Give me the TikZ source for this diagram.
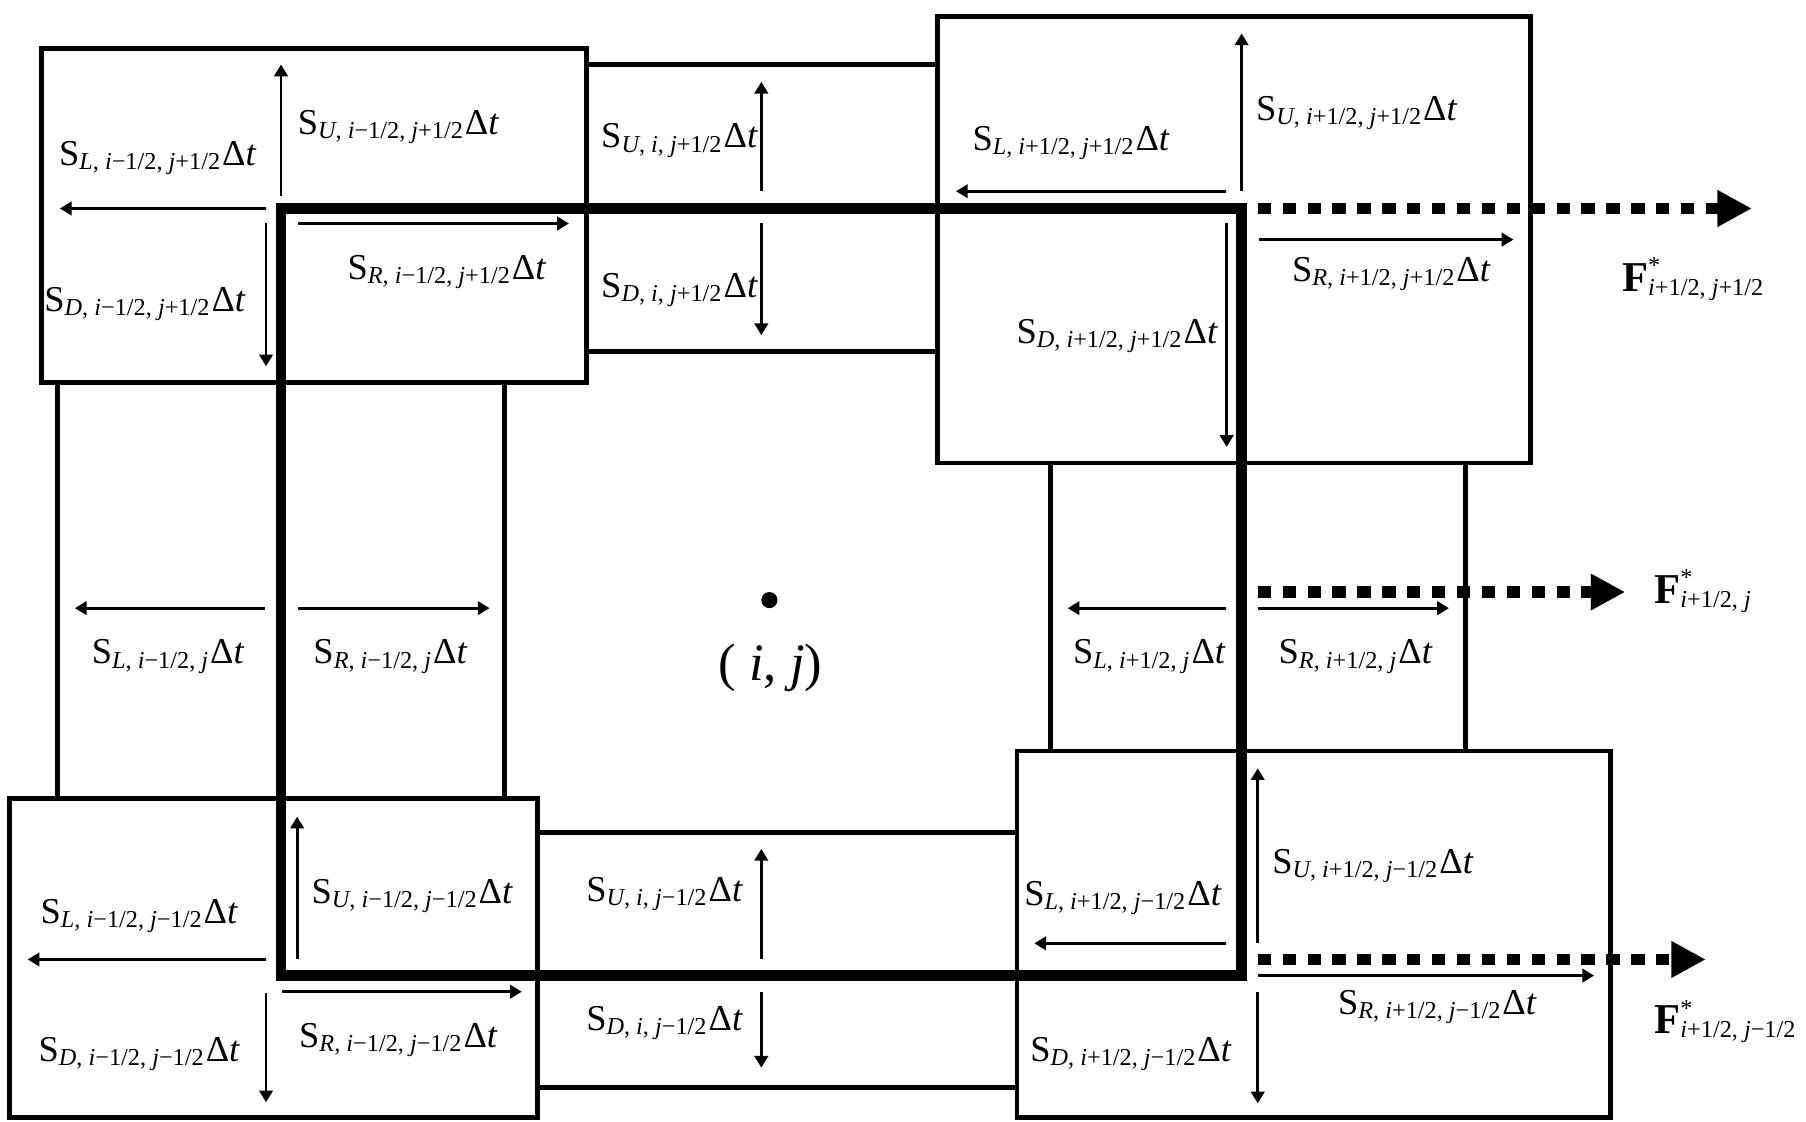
\documentclass[tikz,border=0pt]{standalone}
\usepackage{fontspec}
\setmainfont{Liberation Serif}
\usetikzlibrary{arrows.meta}
\newcommand{\flx}[3]{S\textsubscript{\textit{#1}, #2, #3}Δ\textit{t}}
\newcommand{\flxF}[2]{{\fontsize{10.5}{12}\selectfont\textbf{F}}\rlap{\raisebox{0.6pt}{\textsuperscript{*}}}\textsubscript{#1, #2}}
\begin{document}
\begin{tikzpicture}[x=0.1mm,y=-0.1mm,>={Triangle[length=2.9pt,width=3.3pt]},font=\fontsize{9}{11}\selectfont]
	\tikzset{cell/.style={line width=1.2pt},
		ctrl/.style={line width=2.6pt},
		sv/.style={->,line width=0.7pt},
		flux/.style={-{Triangle[length=8.5pt,width=8.5pt]},line width=2.85pt,dash pattern=on 3.3pt off 2.85pt}}
	\useasboundingbox (0,0) rectangle (1568,974);
	
	% --- Cells around the control volume ---
	\draw[cell] (36,42) rectangle (509,332);
	\draw[cell] (509,56)--(814,56) (509,305)--(814,305);
	\draw[cell] (814,14) rectangle (1329,402);
	\draw[cell] (50,332)--(50,693) (438,332)--(438,693);
	\draw[cell] (912,402)--(912,652) (1272,402)--(1272,652);
	\draw[cell] (8,693) rectangle (467,970);
	\draw[cell] (467,723)--(883,723) (467,944)--(883,944);
	\draw[cell] (883,652) rectangle (1398,970);
	
	% --- Control volume (i,j) ---
	\coordinate (NW) at (244,181);
	\coordinate (SE) at (1078,847);
	\draw[ctrl] (NW) rectangle (SE);
	\fill (668,521) circle (0.7mm);
	\node[font=\fontsize{13}{15}\selectfont] (ij) at (669,580) {(\ \textit{i},\ \textit{j})};
	
	% --- Wave speeds, top row ---
	\draw[sv] (244,170)--(244,56);
	\draw[sv] (231,181)--(52,181);
	\draw[sv] (231,194)--(231,318);
	\draw[sv] (259,194)--(494,194);
	\draw[sv] (661,166)--(661,71);
	\draw[sv] (661,194)--(661,291);
	\draw[sv] (1078,166)--(1078,29);
	\draw[sv] (1064,166)--(830,166);
	\draw[sv] (1065,194)--(1065,388);
	\draw[sv] (1093,208)--(1314,208);
	
	% --- Wave speeds, middle row ---
	\draw[sv] (230,528)--(65,528);
	\draw[sv] (259,528)--(425,528);
	\draw[sv] (1064,528)--(927,528);
	\draw[sv] (1092,528)--(1258,528);
	
	% --- Wave speeds, bottom row ---
	\draw[sv] (258,833)--(258,709);
	\draw[sv] (231,833)--(24,833);
	\draw[sv] (231,862)--(231,957);
	\draw[sv] (245,861)--(453,861);
	\draw[sv] (661,833)--(661,737);
	\draw[sv] (661,861)--(661,927);
	\draw[sv] (1092,819)--(1092,667);
	\draw[sv] (1064,819)--(898,819);
	\draw[sv] (1092,847)--(1384,847);
	\draw[sv] (1092,861)--(1092,958);
	
	% --- Numerical fluxes ---
	\draw[flux] (1092,181)--(1521,181);
	\draw[flux] (1092,514)--(1411,514);
	\draw[flux] (1092,833)--(1481,833);
	\node[anchor=west] (Fne) at (1396,242) {\flxF{\textit{i}+1/2}{\textit{j}+1/2}};
	\node[anchor=west] (Fe) at (1424,513) {\flxF{\textit{i}+1/2}{\textit{j}}};
	\node[anchor=west] (Fse) at (1424,887) {\flxF{\textit{i}+1/2}{\textit{j}−1/2}};
	
	% --- Labels, top row ---
	\node (SUnw) at (346,110) {\flx{U}{\textit{i}−1/2}{\textit{j}+1/2}};
	\node (SLnw) at (137,137) {\flx{L}{\textit{i}−1/2}{\textit{j}+1/2}};
	\node (SRnw) at (388,236) {\flx{R}{\textit{i}−1/2}{\textit{j}+1/2}};
	\node (SDnw) at (126,264) {\flx{D}{\textit{i}−1/2}{\textit{j}+1/2}};
	\node (SUn) at (590,122) {\flx{U}{\textit{i}}{\textit{j}+1/2}};
	\node (SDn) at (590,252) {\flx{D}{\textit{i}}{\textit{j}+1/2}};
	\node (SLne) at (930,124) {\flx{L}{\textit{i}+1/2}{\textit{j}+1/2}};
	\node (SUne) at (1178,98) {\flx{U}{\textit{i}+1/2}{\textit{j}+1/2}};
	\node (SRne) at (1208,238) {\flx{R}{\textit{i}+1/2}{\textit{j}+1/2}};
	\node (SDne) at (970,292) {\flx{D}{\textit{i}+1/2}{\textit{j}+1/2}};
	
	% --- Labels, middle row ---
	\node (SLw) at (146,570) {\flx{L}{\textit{i}−1/2}{\textit{j}}};
	\node (SRw) at (339,570) {\flx{R}{\textit{i}−1/2}{\textit{j}}};
	\node (SLe) at (998,570) {\flx{L}{\textit{i}+1/2}{\textit{j}}};
	\node (SRe) at (1177,570) {\flx{R}{\textit{i}+1/2}{\textit{j}}};
	
	% --- Labels, bottom row ---
	\node (SLsw) at (121,795) {\flx{L}{\textit{i}−1/2}{\textit{j}−1/2}};
	\node (SUsw) at (358,778) {\flx{U}{\textit{i}−1/2}{\textit{j}−1/2}};
	\node (SDsw) at (121,915) {\flx{D}{\textit{i}−1/2}{\textit{j}−1/2}};
	\node (SRsw) at (346,903) {\flx{R}{\textit{i}−1/2}{\textit{j}−1/2}};
	\node (SUs) at (577,776) {\flx{U}{\textit{i}}{\textit{j}−1/2}};
	\node (SDs) at (577,888) {\flx{D}{\textit{i}}{\textit{j}−1/2}};
	\node (SUse) at (1192,752) {\flx{U}{\textit{i}+1/2}{\textit{j}−1/2}};
	\node (SLse) at (975,780) {\flx{L}{\textit{i}+1/2}{\textit{j}−1/2}};
	\node (SRse) at (1248,874) {\flx{R}{\textit{i}+1/2}{\textit{j}−1/2}};
	\node (SDse) at (982,915) {\flx{D}{\textit{i}+1/2}{\textit{j}−1/2}};
\end{tikzpicture}
\end{document}
